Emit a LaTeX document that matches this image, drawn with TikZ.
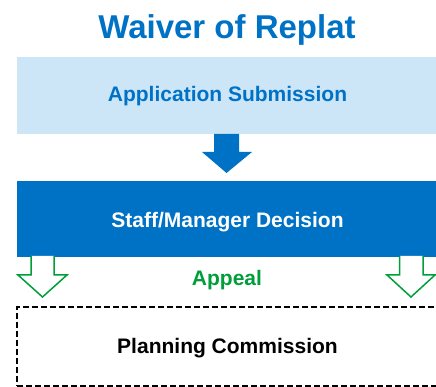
\documentclass[tikz,border=0pt]{standalone}
\usepackage{fontspec}
\setmainfont{Liberation Sans}
\usetikzlibrary{calc}
\definecolor{mblue}{RGB}{0,114,198}
\definecolor{lblue}{RGB}{204,230,248}
\definecolor{mgreen}{RGB}{0,158,58}
\tikzset{
  boxbase/.style={rectangle, inner sep=0pt, minimum width=421pt, text depth=0pt, font=\bfseries\fontsize{21}{25}\selectfont},
  lightbox/.style={boxbase, fill=lblue, text=mblue, minimum height=77pt},
  darkbox/.style={boxbase, fill=mblue, text=white, minimum height=76pt},
  dashbox/.style={boxbase, draw=black, line width=1.5pt, dash pattern=on 6pt off 3pt, text=black, minimum height=79pt},
  hollowarrow/.style={draw=mgreen, line width=1.5pt, fill=white, line join=miter},
  filledarrow/.style={fill=mblue, draw=none}
}
\begin{document}
\begin{tikzpicture}[x=1pt,y=1pt]
\useasboundingbox (0,0) rectangle (436,387);
\clip (0,0) rectangle (436,387);
\node[anchor=base, text=mblue, font=\bfseries\fontsize{33}{38}\selectfont] (title) at (227,348) {Waiver of Replat};
\node[lightbox, text height=12.4pt] (app) at (227.5,291.5) {Application Submission};
\node[darkbox, text height=16.6pt] (staff) at (227.5,168) {Staff/Manager Decision};
\node[dashbox, text height=15pt] (pc) at (227.5,40.5) {Planning Commission};
\node[anchor=base, text=mgreen, font=\bfseries\fontsize{21}{25}\selectfont] (appeal) at (227,101) {Appeal};
% blue arrow
\path[filledarrow] (214,253) -- (239,253) -- (239,235) -- (252,235) -- (226.5,214) -- (202,235) -- (214,235) -- cycle;
% green arrows
\draw[hollowarrow] (31,131) -- (31,112) -- (18,112) -- (42.5,90) -- (67,112) -- (54,112) -- (54,131);
\draw[hollowarrow] (399.5,131) -- (399.5,112) -- (387,112) -- (411,90) -- (435,112) -- (423,112) -- (423,131);
\end{tikzpicture}
\end{document}
